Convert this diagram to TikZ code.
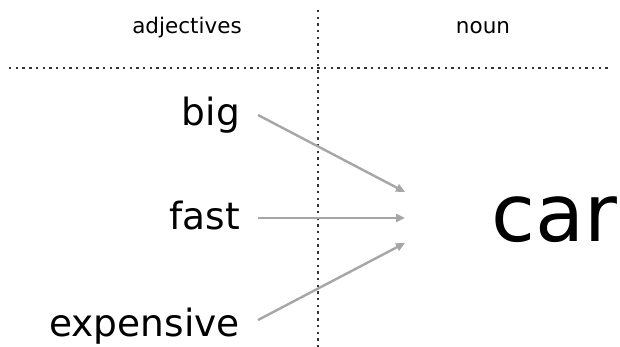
\documentclass[tikz,border=0pt]{standalone}
\usepackage{fontspec}
\setmainfont{DejaVu Sans}
\usetikzlibrary{arrows.meta}

\begin{document}
\begin{tikzpicture}[x=1pt,y=1pt,
	divider/.style={line width=2.4pt,black!80,dash pattern=on 2.4pt off 4.3pt},
	header/.style={inner sep=0pt,anchor=base,font=\fontsize{21.5}{24}\selectfont},
	word/.style={inner sep=0pt,anchor=base east,font=\fontsize{37.5}{40}\selectfont},
	link/.style={line width=2.4pt,black!35,-{Triangle[length=9pt,width=8pt]}}]
	
	\useasboundingbox (0,0) rectangle (620,347);
	
	% Dividers
	\draw[divider] (9,279) -- (609,279);
	\draw[divider] (318,337) -- (318,0);
	
	% Headers
	\node[header] (hadj) at (187,313) {adjectives};
	\node[header] (hnoun) at (483,313) {noun};
	
	% Adjectives
	\node[word] (big) at (240,221) {big};
	\node[word] (fast) at (240,117) {fast};
	\node[word] (expensive) at (240,10) {expensive};
	
	% Noun
	\node[inner sep=0pt,anchor=base west,font=\fontsize{80}{86}\selectfont] (car) at (491,105) {car};
	
	% Arrow tips
	\coordinate (tipbig) at (405,155);
	\coordinate (tipfast) at (405,129);
	\coordinate (tipexp) at (405,104);
	
	\draw[link] ([shift={(18pt,11pt)}]big.base east) -- (tipbig);
	\draw[link] ([shift={(18pt,12pt)}]fast.base east) -- (tipfast);
	\draw[link] ([shift={(18pt,17pt)}]expensive.base east) -- (tipexp);
	
	\end{tikzpicture}
\end{document}
